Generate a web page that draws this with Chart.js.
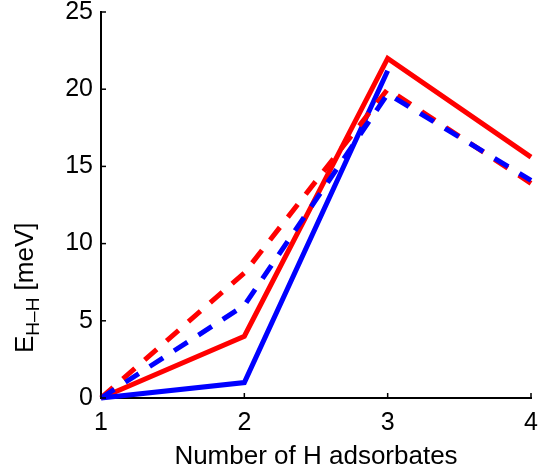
<!DOCTYPE html>
<html>
<head>
<meta charset="utf-8">
<script src="https://cdn.jsdelivr.net/npm/chart.js@4.4.1/dist/chart.umd.min.js"></script>
<style>
  html, body { margin: 0; padding: 0; background: #fff; }
  #wrap { width: 540px; height: 472px; }
</style>
</head>
<body>
<div id="wrap"><canvas id="hh-chart"></canvas></div>
<script>
// number of H adsorbates on the x axis
const adsorbates = [1, 2, 3, 4]
const yTicks = [0, 5, 10, 15, 20, 25]

// E_{H--H} in meV
const redSolid = [0, 4.0, 22.0, 15.6]
const blueSolid = [0, 1.0, 21.2]
const redDashed = [0, 8.1, 20.0, 13.9]
const blueDashed = [0, 6.0, 19.7, 14.1]

const FONT = '"Liberation Sans", Arial, Helvetica, sans-serif'

const toPoints = (vals) => vals.map((v, i) => ({ x: adsorbates[i], y: v }))

// matlab style ticks pointing into the axes + ylabel with subscript
const axesExtras = {
  id: 'axesExtras',
  afterDraw(chart) {
    const { ctx, chartArea, scales } = chart
    ctx.save()
    ctx.strokeStyle = '#000'
    ctx.lineWidth = 1.5
    yTicks.forEach(t => {
      const py = scales.y.getPixelForValue(t)
      ctx.beginPath()
      ctx.moveTo(chartArea.left, py)
      ctx.lineTo(chartArea.left + 5, py)
      ctx.stroke()
    })
    adsorbates.forEach(t => {
      const px = scales.x.getPixelForValue(t)
      ctx.beginPath()
      ctx.moveTo(px, chartArea.bottom)
      ctx.lineTo(px, chartArea.bottom - 5)
      ctx.stroke()
    })

    ctx.translate(33, 353)
    ctx.rotate(-Math.PI / 2)
    ctx.fillStyle = '#000'
    ctx.textAlign = 'left'
    ctx.textBaseline = 'alphabetic'
    ctx.font = '26px ' + FONT
    ctx.fillText('E', 0, 0)
    let w = ctx.measureText('E').width
    ctx.font = '19px ' + FONT
    ctx.fillText('H\u2013H', w, 6)
    w += ctx.measureText('H\u2013H').width
    ctx.font = '26px ' + FONT
    ctx.fillText(' [meV]', w, 0)
    ctx.restore()
  }
}

const ctx = document.getElementById('hh-chart').getContext('2d')

const chart = new Chart(ctx, {
  type: 'line',
  data: {
    datasets: [
      { data: toPoints(blueDashed), borderColor: '#0000ff', borderDash: [16, 13] },
      { data: toPoints(redDashed), borderColor: '#ff0000', borderDash: [16, 13] },
      { data: toPoints(blueSolid), borderColor: '#0000ff' },
      { data: toPoints(redSolid), borderColor: '#ff0000' }
    ]
  },
  options: {
    responsive: true,
    maintainAspectRatio: false,
    animation: false,
    events: [],
    layout: { padding: 0 },
    elements: {
      point: { radius: 0 },
      line: { borderWidth: 5, tension: 0, borderJoinStyle: 'miter', borderCapStyle: 'butt', fill: false }
    },
    datasets: { line: { clip: false } },
    plugins: { legend: { display: false }, tooltip: { enabled: false } },
    scales: {
      x: {
        type: 'linear',
        min: 1,
        max: 4,
        ticks: { stepSize: 1, color: '#000', font: { family: FONT, size: 25 }, padding: 10, maxRotation: 0 },
        grid: { drawOnChartArea: false, drawTicks: false },
        border: { color: '#000', width: 2 },
        title: { display: true, text: 'Number of H adsorbates', color: '#000', font: { family: FONT, size: 26 }, padding: { top: 2, bottom: 0 } },
        afterFit: (scale) => {
          scale.height = 74
          scale.paddingLeft = 0
          scale.paddingRight = 9
        }
      },
      y: {
        min: 0,
        max: 25,
        ticks: { stepSize: 5, color: '#000', font: { family: FONT, size: 25 }, padding: 8 },
        grid: { drawOnChartArea: false, drawTicks: false },
        border: { color: '#000', width: 2 },
        afterFit: (scale) => {
          scale.width = 101
          scale.paddingTop = 12
          scale.paddingBottom = 0
        }
      }
    }
  },
  plugins: [axesExtras]
})
</script>
</body>
</html>
